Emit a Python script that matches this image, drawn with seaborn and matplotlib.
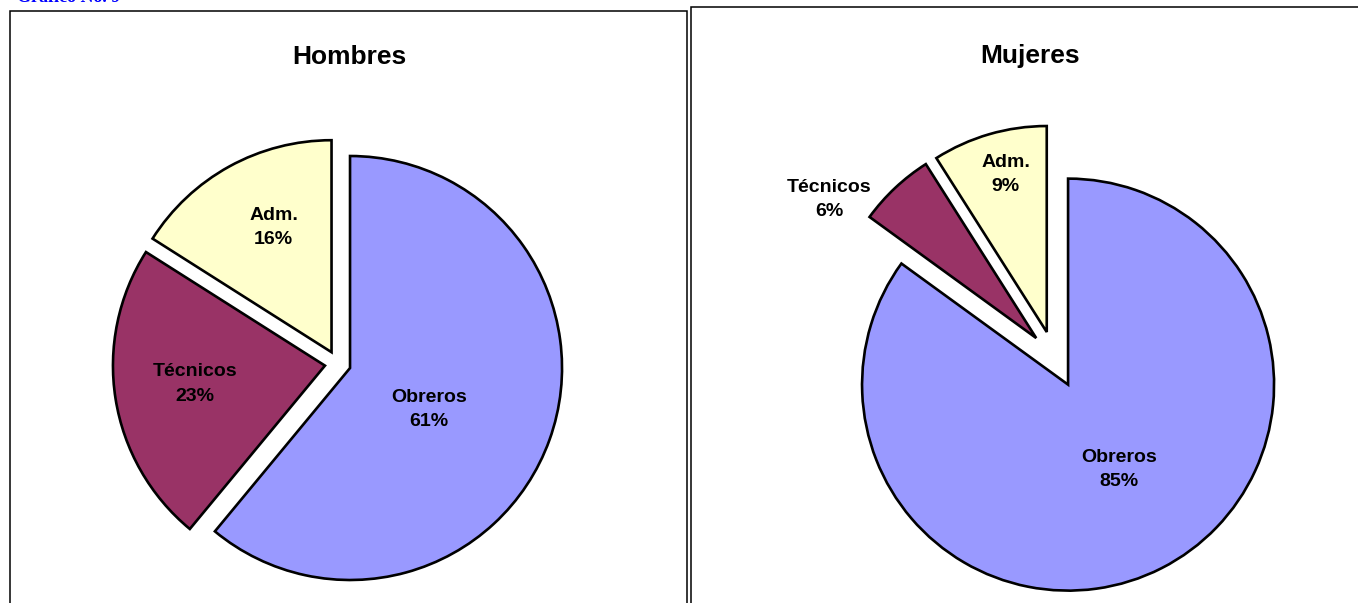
import numpy as np
import matplotlib
matplotlib.use("Agg")
import matplotlib.pyplot as plt
from matplotlib.patches import Rectangle
import seaborn as sns

# ---- data ----
categories = ["Obreros", "Técnicos", "Adm."]
hombres = [61, 23, 16]
mujeres = [85, 6, 9]
panel_titles = ["Hombres", "Mujeres"]
chart_caption = "Gráfico No. 9"

sns.set_theme(style="white")
plt.rcParams["font.family"] = ["Liberation Sans", "DejaVu Sans"]

colors = sns.color_palette(["#9999FF", "#993366", "#FFFFCC"])

W, H = 1358, 603
fig = plt.figure(figsize=(W / 100, H / 100), dpi=100)
ax = fig.add_axes([0, 0, 1, 1])

# panel frames
ax.add_patch(Rectangle((10, -20), 677, H - 11 + 20, fill=False, edgecolor="black", linewidth=1.1))
ax.add_patch(Rectangle((691, -20), 800, H - 7 + 20, fill=False, edgecolor="black", linewidth=1.1))

# caption (clipped at the top, as in the reference)
ax.text(17, H - 2.5, chart_caption, color="#0000FF", fontsize=13, fontweight="bold",
        family=["Liberation Serif", "DejaVu Serif"], ha="left", va="baseline")

panels = [
    dict(values=hombres, center=(337.8, H - 363.6), radius=212, explode=[13, 13, 13],
         title_xy=(349, H - 57),
         label_pos=[(0.42, -8), (0.62, -1), (0.65, -4)]),
    dict(values=mujeres, center=(1054, H - 357), radius=206, explode=[31, 26, 26],
         title_xy=(1030, H - 56),
         label_pos=[(0.48, 4), (1.21, 13), (0.79, -1.6)]),
]

for p, title in zip(panels, panel_titles):
    wedges, _ = ax.pie(p["values"], colors=colors, startangle=90, counterclock=False,
                       center=p["center"], radius=p["radius"], explode=p["explode"],
                       wedgeprops=dict(edgecolor="black", linewidth=1.9), frame=True)
    total = sum(p["values"])
    for w, cat, val, (dist, shift) in zip(wedges, categories, p["values"], p["label_pos"]):
        mid = np.deg2rad((w.theta1 + w.theta2) / 2 + shift)
        cx, cy = w.center
        tx = cx + dist * p["radius"] * np.cos(mid)
        ty = cy + dist * p["radius"] * np.sin(mid)
        ax.text(tx, ty, f"{cat}\n{round(100 * val / total)}%", ha="center", va="center",
                fontsize=14, fontweight="bold", color="black", linespacing=1.55)
    ax.text(p["title_xy"][0], p["title_xy"][1], title, ha="center", va="center",
            fontsize=19, fontweight="bold", color="black")

ax.set_xlim(0, W)
ax.set_ylim(0, H)
ax.set_aspect("auto")
ax.axis("off")

fig.savefig("out.png", dpi=100, facecolor="white")
